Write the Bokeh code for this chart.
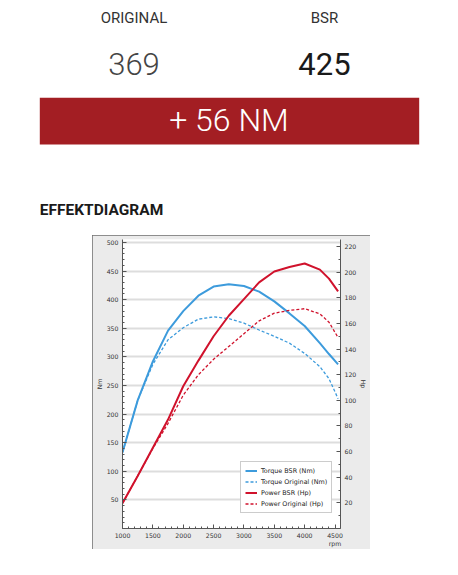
from bokeh.plotting import figure
from bokeh.models import Range1d, LinearAxis, FixedTicker, Legend, LegendItem, Spacer
from bokeh.layouts import column, row
from bokeh.embed import file_html
from bokeh.resources import INLINE
from bokeh.core.properties import value
from bokeh.core.property.validation import validate

# ---------------- data ----------------
header_labels = ["ORIGINAL", "BSR"]
peak_torque = [369, 425]
gain_unit = "NM"
section_title = "EFFEKTDIAGRAM"

rpm = [1000, 1250, 1500, 1750, 2000, 2250, 2500, 2750, 3000, 3250, 3500, 3750, 4000, 4250, 4400, 4550]
torque_bsr = [133, 224, 292, 346, 380, 407, 423, 427, 424, 414, 397, 376, 354, 324, 305, 287]
torque_orig = [133, 224, 287, 330, 351, 366, 370, 367, 359, 347, 336, 324, 306, 283, 262, 227]
power_bsr = [19.7, 41, 63, 85, 111, 131, 150, 166, 179, 192, 200.5, 204, 206.8, 202, 195, 185]
power_orig = [19.7, 41, 62.5, 82, 104, 120, 132, 142, 152, 162, 168, 170.2, 171.5, 167.5, 161, 149]

series_labels = ["Torque BSR (Nm)", "Torque Original (Nm)", "Power BSR (Hp)", "Power Original (Hp)"]

x_ticks = [1000, 1500, 2000, 2500, 3000, 3500, 4000, 4500]
nm_ticks = [50, 100, 150, 200, 250, 300, 350, 400, 450, 500]
hp_ticks = [20, 40, 60, 80, 100, 120, 140, 160, 180, 200, 220]

BLUE = "#3d9bdc"
RED = "#d0122c"
AXIS_FONT = "DejaVu Sans"

# ---------------- header ----------------
header = figure(width=458, height=235, x_range=Range1d(0, 458), y_range=Range1d(235, 0),
                toolbar_location=None, output_backend="svg", min_border=0,
                x_axis_location=None, y_axis_location=None)
header.grid.visible = False
header.outline_line_color = None
header.background_fill_color = "white"
header.border_fill_color = "white"

header.text(x=[133.5, 324], y=[17, 17], text=header_labels, text_font=value("Roboto"),
            text_font_size="15px", text_color="#333333", text_align="center",
            text_baseline="alphabetic")
# light weight (300) is passed through the CSS font shorthand
validate(False)
header.text(x=[133.5], y=[63], text=[str(peak_torque[0])], text_font=value("Roboto"),
            text_font_size=value("300 31px"), text_color="#444444", text_align="center",
            text_baseline="alphabetic")
header.quad(left=[39.3], right=[418.7], top=[97.3], bottom=[144], fill_color="#a31e23",
            line_color=None)
header.text(x=[228.5], y=[119], text=[f"+ {peak_torque[1] - peak_torque[0]} {gain_unit}"],
            text_font=value("Roboto"), text_font_size=value("300 32px"), text_color="white",
            text_align="center", text_baseline="alphabetic")
validate(True)
header.text(x=[324], y=[63], text=[str(peak_torque[1])], text_font=value("Roboto"),
            text_font_size="31px", text_color="#1a1a1a", text_align="center",
            text_baseline="alphabetic")
header.text(x=[39.3], y=[209.5], text=[section_title], text_font=value("Roboto"),
            text_font_style="bold", text_font_size="15.5px", text_color="#1a1a1a",
            text_align="left", text_baseline="alphabetic")

# ---------------- chart ----------------
p = figure(width=278, height=314, x_range=Range1d(1000, 4590), y_range=Range1d(0, 505.2),
           toolbar_location=None, output_backend="svg",
           min_border_left=26, min_border_right=28, min_border_top=4, min_border_bottom=21,
           border_fill_color="#ebebeb", background_fill_color="white")
p.outline_line_color = None
p.extra_y_ranges = {"hp": Range1d(0, 225.5)}
p.styles = {"outline": "2px solid #6e6e6e", "outline-offset": "-2px"}

r1 = p.line(rpm, torque_bsr, line_color=BLUE, line_width=2)
r2 = p.line(rpm, torque_orig, line_color=BLUE, line_width=1.3, line_dash="3 2")
r3 = p.line(rpm, power_bsr, line_color=RED, line_width=2, y_range_name="hp")
r4 = p.line(rpm, power_orig, line_color=RED, line_width=1.3, line_dash="3 2", y_range_name="hp")

hp_axis = LinearAxis(y_range_name="hp", axis_label="Hp")
p.add_layout(hp_axis, "right")

p.xaxis[0].ticker = FixedTicker(ticks=x_ticks, minor_ticks=list(range(1000, 4600, 100)))
p.xaxis[0].major_label_overrides = {4500: "4500\nrpm"}
p.yaxis[0].ticker = FixedTicker(ticks=nm_ticks, minor_ticks=list(range(0, 510, 10)))
p.yaxis[0].axis_label = "Nm"
hp_axis.ticker = FixedTicker(ticks=hp_ticks, minor_ticks=list(range(0, 230, 10)))

for ax in [p.xaxis[0], p.yaxis[0], hp_axis]:
    ax.axis_line_color = "#555555"
    ax.axis_line_width = 1
    ax.major_tick_line_color = "#555555"
    ax.minor_tick_line_color = "#555555"
    ax.major_tick_in = 4
    ax.major_tick_out = 0
    ax.minor_tick_in = 2
    ax.minor_tick_out = 0
    ax.major_label_text_font = AXIS_FONT
    ax.major_label_text_font_size = "6.2px"
    ax.major_label_text_color = "#333333"
    ax.axis_label_text_font = AXIS_FONT
    ax.axis_label_text_font_size = "6.2px"
    ax.axis_label_text_font_style = "normal"
    ax.axis_label_text_color = "#333333"
    ax.axis_label_standoff = 1
    ax.major_label_standoff = 4
p.xaxis[0].major_label_standoff = 3

p.xgrid.visible = False
p.ygrid.grid_line_color = "#dddddd"
p.ygrid.grid_line_width = 2

legend = Legend(items=[LegendItem(label=series_labels[0], renderers=[r1]),
                       LegendItem(label=series_labels[1], renderers=[r2]),
                       LegendItem(label=series_labels[2], renderers=[r3]),
                       LegendItem(label=series_labels[3], renderers=[r4])],
                location=(118, 15), orientation="vertical")
legend.label_text_font = AXIS_FONT
legend.label_text_font_size = "6.4px"
legend.label_text_color = "#222222"
legend.label_height = 9
legend.glyph_height = 9
legend.glyph_width = 12
legend.label_standoff = 4
legend.spacing = 2
legend.padding = 4
legend.margin = 0
legend.border_line_color = "#999999"
legend.border_line_width = 1
legend.background_fill_color = "white"
legend.background_fill_alpha = 1
p.add_layout(legend)

layout = column(header, row(Spacer(width=92, height=314), p))

open("out.html", "w").write(file_html(layout, INLINE))
